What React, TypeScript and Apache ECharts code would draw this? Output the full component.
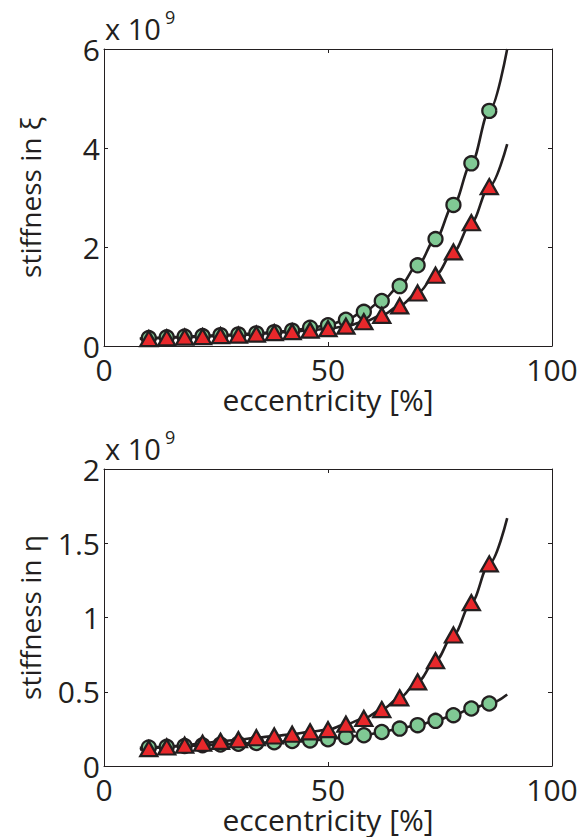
import React, { useEffect, useRef } from "react";
import * as echarts from "echarts";

// eccentricity [%] at which markers were sampled
const eccentricity = [10, 14, 18, 22, 26, 30, 34, 38, 42, 46, 50, 54, 58, 62, 66, 70, 74, 78, 82, 86];
// fitted curve extends a little beyond the samples
const fitStartX = 8;
const fitEndX = 90;

// stiffness in xi (x 10^9)
const xiCircle = [0.16, 0.175, 0.19, 0.2, 0.22, 0.235, 0.255, 0.28, 0.31, 0.37, 0.42, 0.53, 0.69, 0.91, 1.21, 1.63, 2.16, 2.85, 3.69, 4.75];
const xiTriangle = [0.15, 0.165, 0.18, 0.19, 0.21, 0.22, 0.24, 0.27, 0.29, 0.32, 0.35, 0.4, 0.49, 0.62, 0.81, 1.07, 1.43, 1.9, 2.49, 3.22];
const xiCircleFitEnds = [0.15, 6.0];
const xiTriangleFitEnds = [0.14, 4.08];

// stiffness in eta (x 10^9)
const etaCircle = [0.125, 0.13, 0.135, 0.14, 0.145, 0.15, 0.155, 0.16, 0.168, 0.172, 0.18, 0.195, 0.207, 0.229, 0.252, 0.275, 0.304, 0.342, 0.387, 0.421];
const etaTriangle = [0.117, 0.128, 0.14, 0.153, 0.166, 0.177, 0.19, 0.202, 0.214, 0.23, 0.245, 0.281, 0.32, 0.38, 0.459, 0.567, 0.709, 0.882, 1.1, 1.361];
const etaCircleFitEnds = [0.122, 0.482];
const etaTriangleFitEnds = [0.112, 1.669];

const xTicks = { min: 0, max: 100, interval: 50 };
const xiTicks = { min: 0, max: 6, interval: 2 };
const etaTicks = { min: 0, max: 2, interval: 0.5 };

const xTitle = "eccentricity [%]";
const xiTitle = "stiffness in ξ";
const etaTitle = "stiffness in η";
const exponentBase = "x 10";
const exponentPower = "9";

const INK = "#231f20";
const GREEN = "#80c994";
const RED = "#e8282b";
const FONT = "Open Sans";

export default function App() {
  const ref = useRef<HTMLDivElement>(null);

  useEffect(() => {
    if (!ref.current) return;
    const chart = echarts.init(ref.current, undefined, { renderer: "svg" });

    const pairs = (xs: number[], ys: number[]) => xs.map((x, i) => [x, ys[i]]);
    const fit = (ys: number[], ends: number[]) => [
      [fitStartX, ends[0]],
      ...pairs(eccentricity, ys),
      [fitEndX, ends[1]],
    ];

    const grids = [
      { left: 104, top: 49, width: 448, height: 297 },
      { left: 104, top: 469, width: 448, height: 297 },
    ];

    const tickStyle = { fontFamily: FONT, fontSize: 30, color: INK };
    const xNameStyle = { fontFamily: FONT, fontSize: 30, color: INK, lineHeight: 30 };
    const yNameStyle = { fontFamily: FONT, fontSize: 28, color: INK };
    const lineStyle = { color: INK, width: 1 };

    const xAxes: any[] = [];
    const yAxes: any[] = [];
    const yCfg = [
      { t: xiTicks, name: xiTitle },
      { t: etaTicks, name: etaTitle },
    ];
    grids.forEach((_, g) => {
      xAxes.push({
        gridIndex: g,
        type: "value",
        position: "bottom",
        ...xTicks,
        name: xTitle,
        nameLocation: "middle",
        nameGap: 33,
        nameTextStyle: xNameStyle,
        axisLine: { show: true, onZero: false, lineStyle },
        axisTick: { show: true, inside: true, length: 4, lineStyle },
        axisLabel: { ...tickStyle, margin: 8 },
        splitLine: { show: false },
      });
      xAxes.push({
        gridIndex: g,
        type: "value",
        position: "top",
        ...xTicks,
        axisLine: { show: true, onZero: false, lineStyle },
        axisTick: { show: true, inside: true, length: 4, lineStyle },
        axisLabel: { show: false },
        splitLine: { show: false },
      });
      yAxes.push({
        gridIndex: g,
        type: "value",
        position: "left",
        ...yCfg[g].t,
        name: yCfg[g].name,
        nameLocation: "middle",
        nameGap: 60,
        nameRotate: 90,
        nameTextStyle: yNameStyle,
        axisLine: { show: true, onZero: false, lineStyle },
        axisTick: { show: true, inside: true, length: 4, lineStyle },
        axisLabel: { ...tickStyle, margin: 4 },
        splitLine: { show: false },
      });
      yAxes.push({
        gridIndex: g,
        type: "value",
        position: "right",
        ...yCfg[g].t,
        axisLine: { show: true, onZero: false, lineStyle },
        axisTick: { show: true, inside: true, length: 4, lineStyle },
        axisLabel: { show: false },
        splitLine: { show: false },
      });
    });

    const fitLine = (data: number[][], g: number) => ({
      type: "line",
      xAxisIndex: g * 2,
      yAxisIndex: g * 2,
      data,
      smooth: 0.35,
      smoothMonotone: "x",
      showSymbol: false,
      symbol: "none",
      lineStyle: { color: INK, width: 2.6 },
      z: 2,
      silent: true,
    });
    const markers = (data: number[][], g: number, kind: "circle" | "triangle") => ({
      type: "scatter",
      xAxisIndex: g * 2,
      yAxisIndex: g * 2,
      data,
      symbol: kind,
      symbolSize: kind === "circle" ? 14 : [17, 15],
      itemStyle: {
        color: kind === "circle" ? GREEN : RED,
        borderColor: INK,
        borderWidth: 2.3,
        opacity: 1,
      },
      z: kind === "circle" ? 3 : 4,
      silent: true,
    });

    const exponent = (top: number) => [
      {
        type: "text",
        left: 105,
        top: top,
        style: { text: exponentBase, fontFamily: FONT, fontSize: 29, fill: INK },
      },
      {
        type: "text",
        left: 165,
        top: top - 6,
        style: { text: exponentPower, fontFamily: FONT, fontSize: 18, fill: INK },
      },
    ];

    chart.setOption({
      animation: false,
      backgroundColor: "#ffffff",
      grid: grids,
      xAxis: xAxes,
      yAxis: yAxes,
      series: [
        fitLine(fit(xiCircle, xiCircleFitEnds), 0),
        fitLine(fit(xiTriangle, xiTriangleFitEnds), 0),
        markers(pairs(eccentricity, xiCircle), 0, "circle"),
        markers(pairs(eccentricity, xiTriangle), 0, "triangle"),
        fitLine(fit(etaCircle, etaCircleFitEnds), 1),
        fitLine(fit(etaTriangle, etaTriangleFitEnds), 1),
        markers(pairs(eccentricity, etaCircle), 1, "circle"),
        markers(pairs(eccentricity, etaTriangle), 1, "triangle"),
      ],
      graphic: [...exponent(14), ...exponent(434)],
    });

    return () => chart.dispose();
  }, []);

  return (
    <div
      ref={ref}
      style={{ position: "fixed", left: 0, top: 0, width: 587, height: 837, background: "#fff" }}
    />
  );
}
